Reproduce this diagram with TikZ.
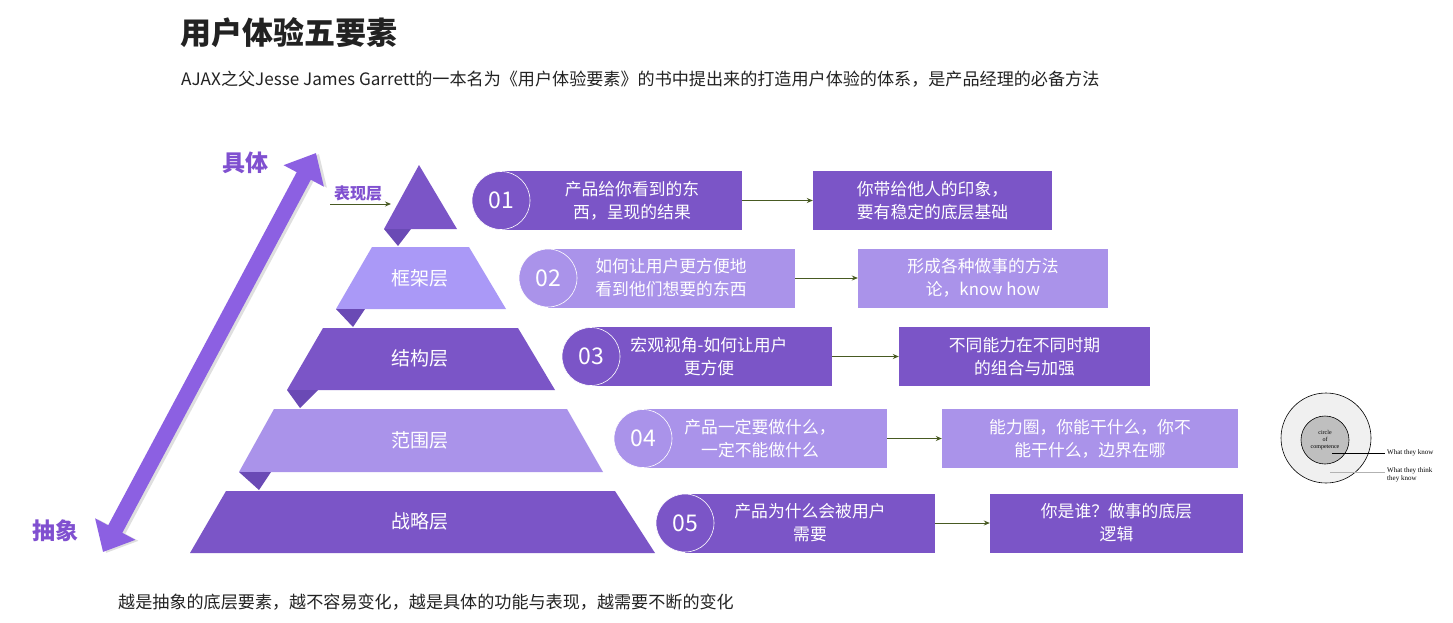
\documentclass[tikz,border=0pt]{standalone}
\usepackage{fontspec}
\setmainfont{Noto Sans CJK SC}
\newfontfamily\timesf{Liberation Serif}
\usetikzlibrary{arrows.meta}
\definecolor{dp}{HTML}{7B55C7}
\definecolor{lp}{HTML}{AA93EA}
\definecolor{lpb}{HTML}{AA99F7}
\definecolor{tri}{HTML}{6A4AB5}
\definecolor{bigarrow}{HTML}{8C60E2}
\definecolor{lab}{HTML}{8050D0}
\definecolor{conncol}{HTML}{485A22}
\definecolor{txt}{HTML}{222222}
\begin{document}
\begin{tikzpicture}[x=1pt,y=-1pt,
  box/.style={rectangle, inner sep=0, minimum height=59},
  btext/.style={text=white, align=center, font=\fontsize{16.8}{23}\selectfont, inner sep=0},
  numc/.style={circle, minimum size=58, inner sep=0, draw=white, line width=0.6, text=white, font=\fontsize{23}{23}\selectfont},
  layer/.style={text=white, font=\fontsize{19}{19}\selectfont},
  conn/.style={draw=conncol, line width=0.9, -{Stealth[length=6pt,width=5pt]}},
  sidelab/.style={text=lab, font=\fontsize{23}{23}\selectfont\bfseries},
  wlab/.style={font=\timesf\fontsize{7}{8}\selectfont, anchor=west, inner sep=0, align=left}]
\useasboundingbox (0,0) rectangle (1453,622);
\fill[white] (0,0) rectangle (1453,622);

% title
\node[anchor=west, text=txt, font=\fontsize{31}{31}\selectfont\bfseries, inner sep=0] (title) at (180,33) {用户体验五要素};
\node[anchor=west, text=txt, font=\fontsize{17.1}{17.1}\selectfont, inner sep=0] (sub) at (181,79) {AJAX之父Jesse James Garrett的一本名为《用户体验要素》的书中提出来的打造用户体验的体系，是产品经理的必备方法};
\node[anchor=west, text=txt, font=\fontsize{17.1}{17.1}\selectfont, inner sep=0] (foot) at (118,602) {越是抽象的底层要素，越不容易变化，越是具体的功能与表现，越需要不断的变化};

% big double arrow
\coordinate (abot) at (103,552);
\coordinate (atop) at (316,153);
\draw[gray!25, line width=16, {Triangle[length=26pt,width=44pt]}-{Triangle[length=26pt,width=44pt]}] ([shift={(3,1)}]abot) -- ([shift={(3,1)}]atop);
\draw[bigarrow, line width=16, {Triangle[length=26pt,width=44pt]}-{Triangle[length=26pt,width=44pt]}] (abot) -- (atop);
\node[sidelab] (concrete) at (245,163) {具体};
\node[sidelab] (abstract) at (55,531) {抽象};

% pyramid
\fill[dp] (419,165) -- (457,229) -- (384,229) -- cycle;
\fill[tri] (384,229) -- (411,229) -- (398,246) -- cycle;
\fill[lpb] (372,247) -- (469,247) -- (506,309) -- (336,309) -- cycle;
\fill[tri] (336,309) -- (365,309) -- (353,327) -- cycle;
\fill[dp] (323,328) -- (518,328) -- (555,390) -- (287,390) -- cycle;
\fill[tri] (287,390) -- (318,390) -- (300,408) -- cycle;
\fill[lp] (274,409) -- (567,409) -- (603,472) -- (239,472) -- cycle;
\fill[tri] (239,472) -- (271,472) -- (259,490) -- cycle;
\fill[dp] (226,491) -- (615,491) -- (655,553) -- (190,553) -- cycle;

\node[layer] (L2) at (420,278) {框架层};
\node[layer] (L3) at (420,358) {结构层};
\node[layer] (L4) at (420,440) {范围层};
\node[layer] (L5) at (420,521) {战略层};

\node[text=lab, font=\fontsize{16}{16}\selectfont\bfseries, inner sep=0] (L1) at (358,194) {表现层};
\coordinate (L1s) at (330,204);
\coordinate (L1e) at (391,204);
\draw[conn] (L1s) -- (L1e);

% row 1
\node[box, fill=dp, minimum width=241] (b1) at (621.5,200.5) {};
\node[numc, fill=dp] (c1) at (501,200.5) {01};
\node[btext] (t1) at (632,200.5) {产品给你看到的东\\西，呈现的结果};
\node[box, fill=dp, minimum width=239, btext] (r1) at (932.5,200.5) {你带给他人的印象，\\要有稳定的底层基础};
\draw[conn] (b1.east) -- (r1.west);

% row 2
\node[box, fill=lp, minimum width=247] (b2) at (671.5,278) {};
\node[numc, fill=lp] (c2) at (548,278) {02};
\node[btext, align=left] (t2) at (671,278) {如何让用户更方便地\\看到他们想要的东西};
\node[box, fill=lp, minimum width=250, btext] (r2) at (983,278) {形成各种做事的方法\\论，know how};
\draw[conn] (b2.east) -- (r2.west);

% row 3
\node[box, fill=dp, minimum width=241] (b3) at (711.5,356.5) {};
\node[numc, fill=dp] (c3) at (591,356.5) {03};
\node[btext] (t3) at (709,356.5) {宏观视角-如何让用户\\更方便};
\node[box, fill=dp, minimum width=251, btext] (r3) at (1024.5,356.5) {不同能力在不同时期\\的组合与加强};
\draw[conn] (b3.east) -- (r3.west);

% row 4
\node[box, fill=lp, minimum width=244] (b4) at (765,438.5) {};
\node[numc, fill=lp] (c4) at (643,438.5) {04};
\node[btext] (t4) at (760,438.5) {产品一定要做什么，\\一定不能做什么};
\node[box, fill=lp, minimum width=296, btext] (r4) at (1090,438.5) {能力圈，你能干什么，你不\\能干什么，边界在哪};
\draw[conn] (b4.east) -- (r4.west);

% row 5
\node[box, fill=dp, minimum width=250] (b5) at (810,523) {};
\node[numc, fill=dp] (c5) at (685,523) {05};
\node[btext] (t5) at (810,523) {产品为什么会被用户\\需要};
\node[box, fill=dp, minimum width=253, btext] (r5) at (1116.5,523) {你是谁？做事的底层\\逻辑};
\draw[conn] (b5.east) -- (r5.west);

% circle of competence
\node[circle, minimum size=90, inner sep=0, fill=gray!12, draw=black, line width=0.6] (outer) at (1326,438) {};
\node[circle, minimum size=48, inner sep=0, fill=gray!50, draw=black, line width=0.6, font=\timesf\fontsize{6}{7}\selectfont, align=center] (inner) at (1325,440) {circle\\of\\competence};
\coordinate (k1) at (1332,453);
\coordinate (k2) at (1385,453);
\coordinate (m1) at (1330,472);
\coordinate (m2) at (1385,472);
\draw[black, line width=0.6] (k1) -- (k2);
\draw[gray!60, line width=0.6] (m1) -- (m2);
\node[wlab] (wk) at (1387,453) {What they know};
\node[wlab, anchor=north west] (wt) at (1387,467) {What they think\\they know};
\end{tikzpicture}
\end{document}
